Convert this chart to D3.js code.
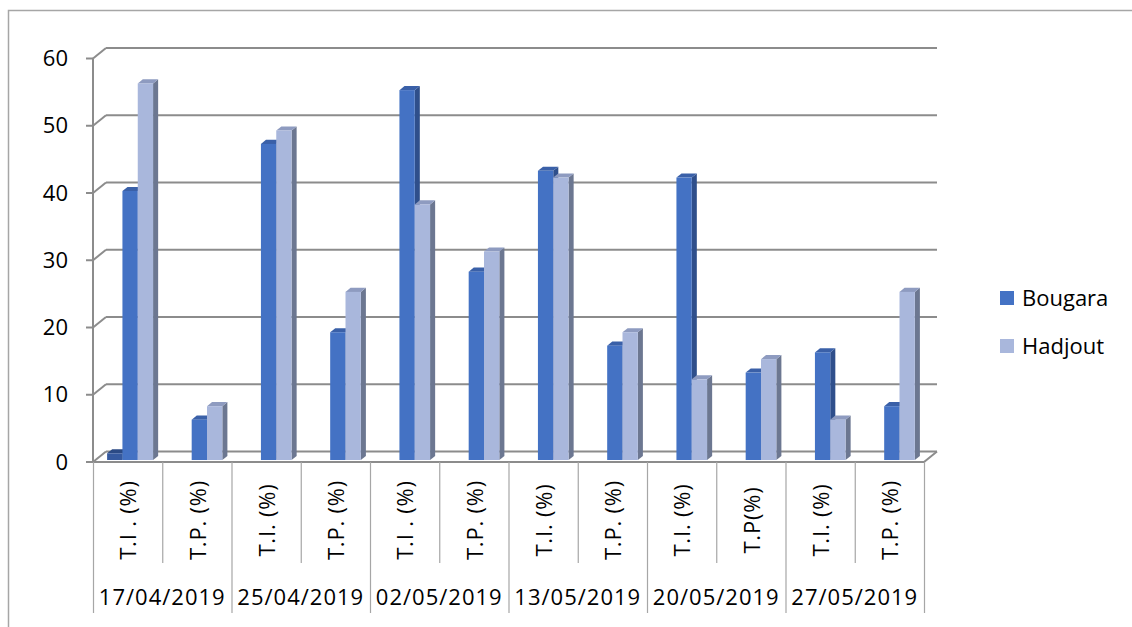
<!DOCTYPE html>
<html>
<head>
<meta charset="utf-8">
<script src="https://cdn.jsdelivr.net/npm/d3@7"></script>
<style>
  html, body { margin: 0; padding: 0; background: #fff; }
  svg { display: block; font-family: "Open Sans", sans-serif; }
</style>
</head>
<body>
<svg id="chart" width="1132" height="627"></svg>
<script>
// Category labels (one per column slot) and the date groups they belong to
const categories = ["T.I . (%)", "T.P. (%)", "T.I. (%)", "T.P. (%)", "T.I . (%)", "T.P. (%)",
                    "T.I. (%)", "T.P. (%)", "T.I. (%)", "T.P(%)", "T.I. (%)", "T.P. (%)"];
const dates = ["17/04/2019", "25/04/2019", "02/05/2019", "13/05/2019", "20/05/2019", "27/05/2019"];

// Series values (%)
const serieSansNom = [1, null, null, null, null, null, null, null, null, null, null, null];
const bougara = [40, 6, 47, 19, 55, 28, 43, 17, 42, 13, 16, 8];
const hadjout = [56, 8, 49, 25, 38, 31, 42, 19, 12, 15, 6, 25];

const yTicks = [0, 10, 20, 30, 40, 50, 60];

const series = [
  { key: "s0", name: "", values: serieSansNom, front: "#35599f", top: "#2b4a85", side: "#223d6e", legend: false },
  { key: "Bougara", name: "Bougara", values: bougara, front: "#4472c4", top: "#3a60a8", side: "#2f4f8b", legend: true },
  { key: "Hadjout", name: "Hadjout", values: hadjout, front: "#a9b7dc", top: "#8e9bc0", side: "#6c7791", legend: true }
];

const svg = d3.select("#chart");

// Outer chart frame (top and left edges)
svg.append("path").attr("d", "M8.5,627 L8.5,10.5 L1132,10.5")
  .attr("fill", "none").attr("stroke", "#a6a6a6").attr("stroke-width", 1.5);

// Plot geometry: front plane and depth offset of the back wall
const x0 = 93, x1 = 924;
const depthX = 13, depthY = -10.5;

const x = d3.scaleBand().domain(d3.range(categories.length)).range([x0, x1]);
const y = d3.scaleLinear().domain([0, 60]).range([462, 58.5]);
const inner = d3.scaleBand().domain(series.map(s => s.key)).range([0, x.bandwidth()]).paddingOuter(0.76);

const gridColor = "#8c8c8c";
const grid = svg.append("g");

// Back wall gridlines and left wall diagonals
yTicks.forEach(t => {
  const yf = y(t), yb = y(t) + depthY;
  grid.append("line").attr("x1", x0 + depthX).attr("x2", x1 + depthX)
    .attr("y1", yb).attr("y2", yb).attr("stroke", gridColor).attr("stroke-width", 2);
  grid.append("line").attr("x1", x0).attr("x2", x0 + depthX)
    .attr("y1", yf).attr("y2", yb).attr("stroke", gridColor).attr("stroke-width", 2);
  // tick mark
  grid.append("line").attr("x1", x0 - 7).attr("x2", x0)
    .attr("y1", yf).attr("y2", yf).attr("stroke", gridColor).attr("stroke-width", 2);
});

// Vertical axis line
grid.append("line").attr("x1", x0).attr("x2", x0).attr("y1", y(60)).attr("y2", y(0))
  .attr("stroke", gridColor).attr("stroke-width", 2);

// Floor: front edge and right edge
grid.append("path")
  .attr("d", `M${x0},${y(0)} L${x1},${y(0)} L${x1 + depthX},${y(0) + depthY}`)
  .attr("fill", "none").attr("stroke", gridColor).attr("stroke-width", 2);

// Y tick labels
svg.append("g").selectAll("text").data(yTicks).join("text")
  .attr("x", 68).attr("y", d => y(d)).attr("dy", "0.35em")
  .attr("text-anchor", "end").attr("font-size", 22).attr("fill", "#000")
  .text(d => d);

// 3D columns: front face at depth f0, back at depth f1
const f0 = 0.19, f1 = 0.58;
const bars = svg.append("g");
categories.forEach((c, i) => {
  series.forEach(s => {
    const v = s.values[i];
    if (v == null) return;
    const xl = x(i) + inner(s.key) + depthX * f0;
    const xr = xl + inner.bandwidth();
    const yb = y(0) + depthY * f0;
    const yt = y(v) + depthY * f0;
    const ox = depthX * (f1 - f0), oy = depthY * (f1 - f0);
    bars.append("polygon")
      .attr("points", [[xr, yb], [xr + ox, yb + oy], [xr + ox, yt + oy], [xr, yt]].join(" "))
      .attr("fill", s.side);
    bars.append("polygon")
      .attr("points", [[xl, yt], [xr, yt], [xr + ox, yt + oy], [xl + ox, yt + oy]].join(" "))
      .attr("fill", s.top);
    bars.append("rect")
      .attr("x", xl).attr("y", yt).attr("width", xr - xl).attr("height", yb - yt)
      .attr("fill", s.front);
  });
});

// Category separators below the floor
const sepColor = "#a6a6a6";
const seps = svg.append("g");
d3.range(categories.length + 1).forEach(i => {
  const xx = (i < categories.length ? x(i) : x1) + 0.5;
  const isGroup = i % 2 === 0;
  seps.append("line").attr("x1", xx).attr("x2", xx)
    .attr("y1", y(0)).attr("y2", isGroup ? 613 : 563)
    .attr("stroke", sepColor).attr("stroke-width", 1.2);
});

// Rotated category labels
svg.append("g").selectAll("text").data(categories).join("text")
  .attr("transform", (d, i) => `translate(${x(i) + x.bandwidth() / 2 + 1},520) rotate(-90)`)
  .attr("text-anchor", "middle").attr("dy", "0.35em")
  .attr("font-size", 22).attr("letter-spacing", 0.8).attr("fill", "#000")
  .text(d => d);

// Date group labels
svg.append("g").selectAll("text").data(dates).join("text")
  .attr("x", (d, i) => x(i * 2) + x.bandwidth()).attr("y", 605)
  .attr("text-anchor", "middle")
  .attr("font-size", 22).attr("letter-spacing", 1).attr("fill", "#000")
  .text(d => d);

// Legend
const legendItems = series.filter(s => s.legend);
const lg = svg.append("g").selectAll("g").data(legendItems).join("g")
  .attr("transform", (d, i) => `translate(1000,${291 + i * 48})`);
lg.append("rect").attr("width", 14).attr("height", 14).attr("fill", d => d.front);
lg.append("text").attr("x", 22).attr("y", 7).attr("dy", "0.35em")
  .attr("font-size", 22).attr("fill", "#000").text(d => d.name);
</script>
</body>
</html>
